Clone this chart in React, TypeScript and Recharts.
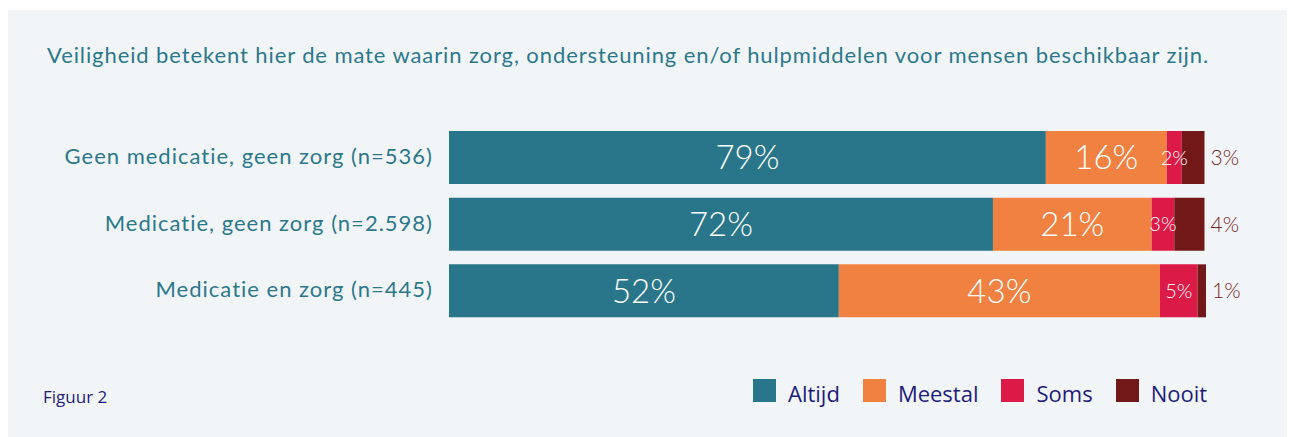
import React from "react";
import { BarChart, Bar, XAxis, YAxis, LabelList } from "recharts";

const categories = [
  "Geen medicatie, geen zorg (n=536)",
  "Medicatie, geen zorg (n=2.598)",
  "Medicatie en zorg (n=445)",
];
const altijd = [79, 72, 51.6];
const meestal = [16, 21, 42.5];
const soms = [2, 3, 5];
const nooit = [3, 4, 1.1];

const seriesNames = ["Altijd", "Meestal", "Soms", "Nooit"];
const seriesKeys = ["altijd", "meestal", "soms", "nooit"];
const seriesColors = ["#29768a", "#f08141", "#dc1a47", "#721818"];

const title =
  "Veiligheid betekent hier de mate waarin zorg, ondersteuning en/of hulpmiddelen voor mensen beschikbaar zijn.";
const footnote = "Figuur 2";

const data = categories.map((name, i) => ({
  name,
  altijd: altijd[i],
  meestal: meestal[i],
  soms: soms[i],
  nooit: nooit[i],
}));

const TEAL = "#2c788b";
const NAVY = "#1f1c78";

const pct = (v: any) => `${Math.round(Number(v))}%`;

// label centred in the segment
const insideLabel = (fontSize: number) => (props: any) => {
  const { x, y, width, height, value } = props;
  return (
    <text
      x={Number(x) + Number(width) / 2}
      y={Number(y) + Number(height) / 2}
      dy="0.36em"
      textAnchor="middle"
      fill="#ffffff"
      fontFamily="Lato, sans-serif"
      fontWeight={300}
      fontSize={fontSize}
    >
      {pct(value)}
    </text>
  );
};

// label just right of the bar end
const outsideLabel = (props: any) => {
  const { x, y, width, height, value } = props;
  return (
    <text
      x={Number(x) + Number(width) + 6}
      y={Number(y) + Number(height) / 2}
      dy="0.36em"
      textAnchor="start"
      fill="#7a2222"
      fontFamily="Lato, sans-serif"
      fontWeight={300}
      fontSize={21}
    >
      {pct(value)}
    </text>
  );
};

const CategoryTick = (props: any) => {
  const { x, y, payload } = props;
  return (
    <text
      x={x}
      y={y}
      dy="0.3em"
      textAnchor="end"
      fill={TEAL}
      fontFamily="Lato, sans-serif"
      fontSize={22}
      letterSpacing={1}
    >
      {payload.value}
    </text>
  );
};

export default function App() {
  return (
    <div style={{ position: "relative", width: 1282, height: 429 }}>
      <div
        style={{
          position: "absolute",
          top: 2,
          left: 0,
          width: 1282,
          height: 427,
          background: "#f1f5f8",
        }}
      >
        <BarChart
          width={1282}
          height={427}
          data={data}
          layout="vertical"
          margin={{ top: 114, right: 84, bottom: 113, left: 0 }}
        >
          <XAxis type="number" domain={[0, 100]} hide />
          <YAxis
            type="category"
            dataKey="name"
            width={441}
            axisLine={false}
            tickLine={false}
            tickSize={0}
            tickMargin={16}
            tick={<CategoryTick />}
          />
          <Bar dataKey="altijd" stackId="a" fill={seriesColors[0]} barSize={53} isAnimationActive={false}>
            <LabelList dataKey="altijd" content={insideLabel(33)} />
          </Bar>
          <Bar dataKey="meestal" stackId="a" fill={seriesColors[1]} barSize={53} isAnimationActive={false}>
            <LabelList dataKey="meestal" content={insideLabel(33)} />
          </Bar>
          <Bar dataKey="soms" stackId="a" fill={seriesColors[2]} barSize={53} isAnimationActive={false}>
            <LabelList dataKey="soms" content={insideLabel(20)} />
          </Bar>
          <Bar dataKey="nooit" stackId="a" fill={seriesColors[3]} barSize={53} isAnimationActive={false}>
            <LabelList dataKey="nooit" content={outsideLabel} />
          </Bar>
        </BarChart>

        <svg
          width={1282}
          height={427}
          style={{ position: "absolute", left: 0, top: 0, pointerEvents: "none" }}
        >
          <text x={39} y={53} fill={TEAL} fontFamily="Lato, sans-serif" fontSize={22} letterSpacing={0.9}>
            {title}
          </text>
          <text x={35} y={393} fill={NAVY} fontFamily="'Open Sans', sans-serif" fontSize={17}>
            {footnote}
          </text>
        </svg>

        <div
          style={{
            position: "absolute",
            left: 745,
            top: 369,
            display: "flex",
            alignItems: "flex-start",
            fontFamily: "'Open Sans', sans-serif",
            fontSize: 22,
            color: NAVY,
          }}
        >
          {seriesKeys.map((k, i) => (
            <div key={k} style={{ display: "flex", alignItems: "flex-start", marginRight: 23 }}>
              <div style={{ width: 23, height: 23, background: seriesColors[i] }} />
              <span style={{ marginLeft: 12, lineHeight: "23px", position: "relative", top: 3 }}>
                {seriesNames[i]}
              </span>
            </div>
          ))}
        </div>
      </div>
    </div>
  );
}
